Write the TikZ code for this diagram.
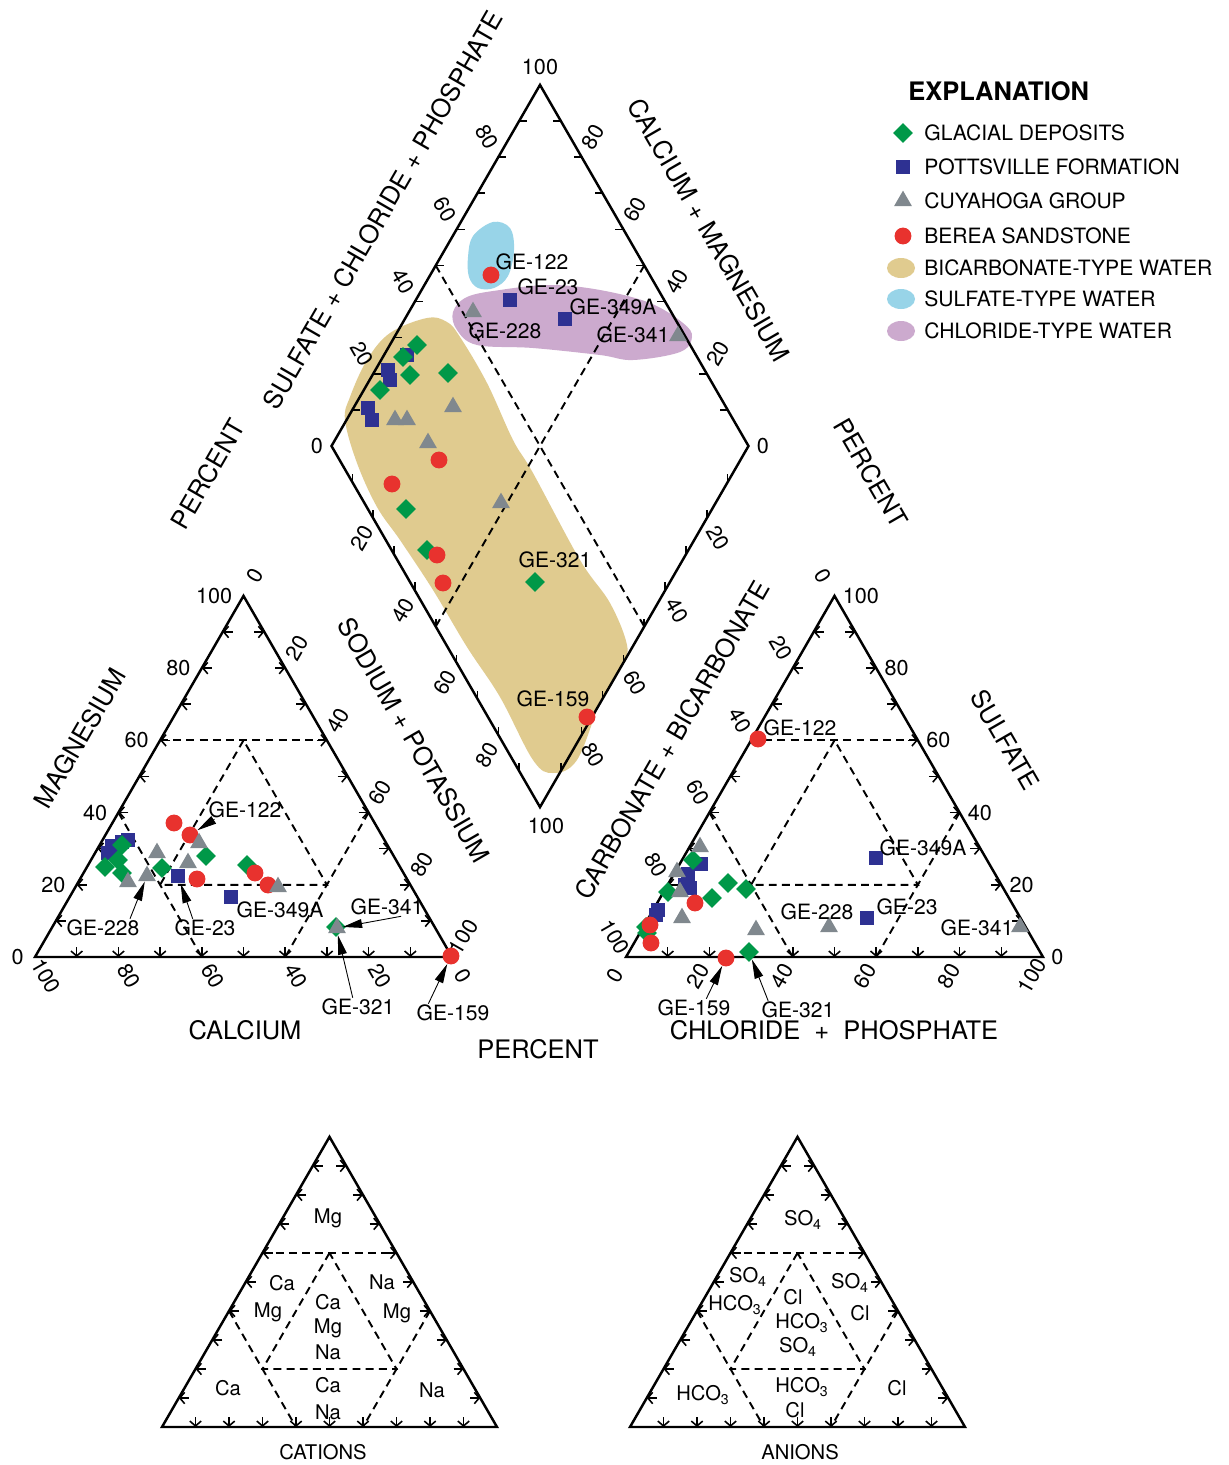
\documentclass[tikz,border=0pt]{standalone}
\usepackage{fontspec}
\setmainfont{TeX Gyre Heros}
\usetikzlibrary{arrows.meta,shapes.geometric}

\definecolor{glacgreen}{RGB}{0,152,72}
\definecolor{pottsblue}{RGB}{46,49,146}
\definecolor{cuyagray}{RGB}{128,136,142}
\definecolor{bereared}{RGB}{232,50,46}
\definecolor{bicarbtan}{RGB}{224,203,143}
\definecolor{sulfblue}{RGB}{152,212,232}
\definecolor{chlorpurple}{RGB}{204,170,206}

\tikzset{
  triframe/.style={line width=1.4pt,line join=miter},
  zoneline/.style={line width=1.1pt,dash pattern=on 4.5pt off 3pt},
  tickmark/.style={line width=0.9pt},
  chev/.style={line width=0.9pt,-{Straight Barb[length=2.8pt,width=6.5pt]}},
  ticklab/.style={font=\fontsize{12.3}{13}\selectfont,inner sep=0pt},
  axislab/.style={font=\fontsize{14.5}{16}\selectfont,inner sep=0pt},
  samplab/.style={font=\fontsize{12}{13}\selectfont,inner sep=0.5pt},
  zonelab/.style={font=\fontsize{11.5}{13}\selectfont,inner sep=0pt},
  legtxt/.style={font=\fontsize{12}{14}\selectfont,anchor=west,inner sep=0pt},
  glacial/.style={diamond,fill=glacgreen,minimum size=11.3pt,inner sep=0pt},
  potts/.style={rectangle,fill=pottsblue,minimum size=8.5pt,inner sep=0pt},
  cuya/.style={regular polygon,regular polygon sides=3,fill=cuyagray,minimum size=11.8pt,inner sep=0pt},
  berea/.style={circle,fill=bereared,minimum size=9.6pt,inner sep=0pt},
  callout/.style={line width=0.5pt,-{Triangle[length=11pt,width=5pt]}}
}

% triangle with ticks and zone lines: #1,#2 lower left corner, #3 side
\newcommand{\pipertri}[3]{%
  \pgfmathsetmacro{\tris}{#3}%
  \pgfmathsetmacro{\trih}{0.8660254*#3}%
  \draw[triframe] (#1,#2) -- ++(\tris,0) -- ++(-0.5*\tris,-\trih) -- cycle;
  \foreach \k in {1,...,9}{
    \draw[chev] ({#1+0.05*\tris*\k+10},{#2-0.1*\trih*\k}) -- ++(-10,0);
    \draw[chev] ({#1+\tris-0.05*\tris*\k-10},{#2-0.1*\trih*\k}) -- ++(10,0);
    \draw[chev] ({#1+0.1*\tris*\k},{#2-10}) -- ++(0,10);
  }
  \draw[zoneline] ({#1+0.3*\tris},{#2-0.6*\trih}) -- ({#1+0.7*\tris},{#2-0.6*\trih});
  \draw[zoneline] ({#1+0.2*\tris},{#2-0.4*\trih}) -- ({#1+0.4*\tris},#2);
  \draw[zoneline] ({#1+0.8*\tris},{#2-0.4*\trih}) -- ({#1+0.6*\tris},#2);
  \draw[zoneline] ({#1+0.5*\tris},{#2-0.6*\trih}) -- ({#1+0.3*\tris},{#2-0.2*\trih})
    -- ({#1+0.7*\tris},{#2-0.2*\trih}) -- cycle;
}

\begin{document}
\begin{tikzpicture}[x=0.02cm,y=-0.02cm]
\fill[white] (0,0) rectangle (1229,1465);
\useasboundingbox (0,0) rectangle (1229,1465);

% water-type fields in the diamond
\fill[bicarbtan] plot[smooth cycle,tension=0.6] coordinates {(345,420) (350,397) (367,360) (390,333) (427,318) (447,322) (460,337) (487,383) (513,440) (533,473) (580,560) (610,603) (627,645) (622,665) (600,703) (577,760) (553,773) (533,760) (500,697) (467,647) (433,590) (400,540) (377,507) (357,463)};
\fill[sulfblue] plot[smooth cycle,tension=0.6] coordinates {(468,257) (473,236) (493,222) (510,228) (514,250) (508,276) (494,288) (478,288) (469,277)};
\fill[chlorpurple] plot[smooth cycle,tension=0.6] coordinates {(453,312) (467,297) (500,290) (550,285) (600,290) (650,303) (683,323) (692,337) (680,352) (633,360) (600,355) (533,348) (477,345) (457,330)};

% diamond
\draw[triframe] (331.5,446) -- (540,84.9) -- (748.5,446) -- (540,807.1) -- cycle;
\foreach \k in {1,...,9}{
  \draw[tickmark] ({331.5+20.85*\k},{446-36.11*\k}) -- ++(8,0);
  \draw[tickmark] ({748.5-20.85*\k},{446-36.11*\k}) -- ++(-8,0);
  \draw[tickmark] ({331.5+20.85*\k},{446+36.11*\k}) -- ++(0,-8);
  \draw[tickmark] ({748.5-20.85*\k},{446+36.11*\k}) -- ++(0,-8);
}
\draw[zoneline] (435.75,265.5) -- (644.25,626.5);
\draw[zoneline] (644.25,265.5) -- (435.75,626.5);
\foreach \v in {20,40,...,80}{
  \node[ticklab,rotate=-60] (dul\v) at ({331.5+2.085*\v-11.5},{446-3.611*\v-20}) {\v};
  \node[ticklab,rotate=60] (dur\v) at ({748.5-2.085*\v+11.5},{446-3.611*\v-20}) {\v};
  \node[ticklab,rotate=60] (dll\v) at ({331.5+2.085*\v-11.5},{446+3.611*\v+20}) {\v};
  \node[ticklab,rotate=-60] (dlr\v) at ({748.5-2.085*\v+11.5},{446+3.611*\v+20}) {\v};
}
\node[ticklab] (dtop) at (540,67) {100};
\node[ticklab] (dbot) at (546,826) {100};
\node[ticklab] (dlft) at (317,446) {0};
\node[ticklab] (drgt) at (763,446) {0};

% cation and anion triangles
\pipertri{35}{957}{417}
\pipertri{626}{957}{417}
\foreach \v in {0,20,...,100}{
  \node[ticklab,anchor=east] (mg\v) at ({35+2.085*\v-11},{957-3.611*\v}) {\v};
  \node[ticklab,rotate=60] (na\v) at ({243.5+2.085*\v+11.5},{595.9+3.611*\v-20}) {\v};
  \node[ticklab,rotate=-60] (ca\v) at ({35+4.17*(100-\v)+11},{957+19}) {\v};
  \node[ticklab,rotate=-60] (hc\v) at ({834.5-2.085*\v-11.5},{595.9+3.611*\v-20}) {\v};
  \node[ticklab,anchor=west] (so\v) at ({1043-2.085*\v+8},{957-3.611*\v}) {\v};
  \node[ticklab,rotate=60] (cl\v) at ({626+4.17*\v-11},{957+19}) {\v};
}

% axis titles
\node[axislab,rotate=60] (tso) at (383,210) {SULFATE + CHLORIDE + PHOSPHATE};
\node[axislab,rotate=60] (tpl) at (208,474) {PERCENT};
\node[axislab,rotate=-60] (tcm) at (709,230) {CALCIUM + MAGNESIUM};
\node[axislab,rotate=-60] (tpr) at (871,473) {PERCENT};
\node[axislab,rotate=60] (tmg) at (80,738) {MAGNESIUM};
\node[axislab,rotate=-60] (tnk) at (414,740) {SODIUM + POTASSIUM};
\node[axislab] (tca) at (245,1030) {CALCIUM};
\node[axislab] (tpb) at (538,1049) {PERCENT};
\node[axislab,rotate=60] (tcb) at (672,740) {CARBONATE + BICARBONATE};
\node[axislab,rotate=-60] (tsu) at (1005,740) {SULFATE};
\node[axislab] (tcp) at (834,1030) {CHLORIDE\ \ +\ \ PHOSPHATE};

% samples, cation triangle
\foreach \x/\y [count=\i] in {128/840,122/842,112/846,108/853}
  \node[potts] (lp\i) at (\x,\y) {};
\node[potts] (lp23) at (178,876) {};
\node[potts] (lp349) at (231,897) {};
\foreach \x/\y [count=\i] in {122/845,118/860,105/867,122/873,162/868,206/856,247/865}
  \node[glacial] (lg\i) at (\x,\y) {};
\node[glacial] (lg321) at (336,927) {};
\foreach \x/\y [count=\i] in {174/823,197/879,255/873,268/885}
  \node[berea] (lb\i) at (\x,\y) {};
\node[berea] (lb122) at (190,835) {};
\node[berea] (lb159) at (451,956) {};
\foreach \x/\y [count=\i] in {128/882,157/853,188/863,199/843,278/887}
  \node[cuya] (lc\i) at (\x,\y) {};
\node[cuya] (lc228) at (147,876) {};
\node[cuya] (lc341) at (337,928) {};

\node[samplab] (l122) at (245,810) {GE-122};
\node[samplab] (l228) at (103,928) {GE-228};
\node[samplab] (l23) at (205,928) {GE-23};
\node[samplab] (l349) at (280,910) {GE-349A};
\node[samplab] (l341) at (387,907) {GE-341};
\node[samplab] (l321) at (358,1007) {GE-321};
\node[samplab] (l159) at (453,1013) {GE-159};
\draw[callout] ([xshift=4pt]l122.south west) -- (lb122);
\draw[callout] ([xshift=-6pt]l228.north east) -- (lc228);
\draw[callout] ([xshift=-7pt]l23.north) -- (lp23);
\draw[callout] ([xshift=8pt]l341.south) -- (lc341);
\draw[callout] ([xshift=-3pt]l321.north) -- (lg321);
\draw[callout] ([xshift=-14pt]l159.north) -- (lb159);

% samples, anion triangle
\foreach \x/\y [count=\i] in {701/864,688/874,685/885,690/888,658/910,656/915,876/858,867/918}
  \node[potts] (rp\i) at (\x,\y) {};
\foreach \x/\y [count=\i] in {693/860,668/892,712/898,728/883,746/889,646/927,647/933}
  \node[glacial] (rg\i) at (\x,\y) {};
\node[glacial] (rg321) at (749,952) {};
\foreach \x/\y [count=\i] in {758/739,695/903,650/925,651/943}
  \node[berea] (rb\i) at (\x,\y) {};
\node[berea] (rb159) at (726,958) {};
\foreach \x/\y [count=\i] in {700/847,677/872,680/892,682/918,756/930,829/927,1020/927}
  \node[cuya] (rc\i) at (\x,\y) {};

\node[samplab] (r122) at (800,728) {GE-122};
\node[samplab] (r349) at (923,848) {GE-349A};
\node[samplab] (r228) at (817,912) {GE-228};
\node[samplab] (r23) at (907,907) {GE-23};
\node[samplab] (r341) at (977,928) {GE-341};
\node[samplab] (r159) at (694,1008) {GE-159};
\node[samplab] (r321) at (798,1010) {GE-321};
\draw[callout] ([xshift=7pt]r159.north) -- (rb159);
\draw[callout] ([xshift=-17pt]r321.north) -- (rg321);

% samples, diamond
\foreach \x/\y [count=\i] in {407/355,388/370,390/380,368/408,372/420,510/300,565/319}
  \node[potts] (dp\i) at (\x,\y) {};
\foreach \x/\y [count=\i] in {417/345,403/357,410/375,448/373,380/390,406/509,427/550,535/582}
  \node[glacial] (dg\i) at (\x,\y) {};
\foreach \x/\y [count=\i] in {491/275,439/460,392/484,437/555,443/583,587/717}
  \node[berea] (db\i) at (\x,\y) {};
\foreach \x/\y [count=\i] in {395/420,407/420,453/407,428/443,501/503,473/312,678/336}
  \node[cuya] (dc\i) at (\x,\y) {};

\node[samplab] (d122) at (532,262) {GE-122};
\node[samplab] (d23) at (548,287) {GE-23};
\node[samplab] (d228) at (505,331) {GE-228};
\node[samplab] (d349) at (613,307) {GE-349A};
\node[samplab] (d341) at (633,335) {GE-341};
\node[samplab] (d321) at (555,560) {GE-321};
\node[samplab] (d159) at (553,699) {GE-159};

% explanation
\node[font=\bfseries\fontsize{14.5}{16}\selectfont,anchor=west,inner sep=0pt] (kexp) at (908,91) {EXPLANATION};
\node[glacial] (kg) at (903,133) {};
\node[legtxt] (kgt) at (924,133) {GLACIAL DEPOSITS};
\node[potts] (kp) at (903,167) {};
\node[legtxt] (kpt) at (924,167) {POTTSVILLE FORMATION};
\node[cuya] (kc) at (903,201) {};
\node[legtxt] (kct) at (924,201) {CUYAHOGA GROUP};
\node[berea] (kb) at (903,236) {};
\node[legtxt] (kbt) at (924,236) {BEREA SANDSTONE};
\fill[bicarbtan] (901,268) ellipse [x radius=14,y radius=10];
\node[legtxt] (kht) at (924,268) {BICARBONATE-TYPE WATER};
\fill[sulfblue] (901,299) ellipse [x radius=14,y radius=10];
\node[legtxt] (kst) at (924,299) {SULFATE-TYPE WATER};
\fill[chlorpurple] (901,331) ellipse [x radius=14,y radius=10];
\node[legtxt] (klt) at (924,331) {CHLORIDE-TYPE WATER};

% key triangles
\pipertri{162}{1427}{335}
\pipertri{630}{1427}{335}
\node[zonelab] (zmg) at (328,1218) {Mg};
\node[zonelab] (zcm1) at (282,1283) {Ca};
\node[zonelab] (zcm2) at (268,1312) {Mg};
\node[zonelab] (znm1) at (382,1282) {Na};
\node[zonelab] (znm2) at (397,1313) {Mg};
\node[zonelab] (zmix1) at (328,1302) {Ca};
\node[zonelab] (zmix2) at (328,1328) {Mg};
\node[zonelab] (zmix3) at (328,1352) {Na};
\node[zonelab] (zca) at (228,1388) {Ca};
\node[zonelab] (zcn1) at (328,1385) {Ca};
\node[zonelab] (zcn2) at (328,1412) {Na};
\node[zonelab] (zna) at (432,1390) {Na};
\node[zonelab] (cat) at (323,1452) {CATIONS};

\node[zonelab] (zso) at (803,1220) {SO\textsubscript{4}};
\node[zonelab] (zsh1) at (748,1277) {SO\textsubscript{4}};
\node[zonelab] (zsh2) at (735,1305) {HCO\textsubscript{3}};
\node[zonelab] (zmx1) at (793,1297) {Cl};
\node[zonelab] (zmx2) at (802,1323) {HCO\textsubscript{3}};
\node[zonelab] (zmx3) at (798,1347) {SO\textsubscript{4}};
\node[zonelab] (zsc1) at (850,1283) {SO\textsubscript{4}};
\node[zonelab] (zsc2) at (860,1313) {Cl};
\node[zonelab] (zhc) at (703,1395) {HCO\textsubscript{3}};
\node[zonelab] (zhl1) at (802,1387) {HCO\textsubscript{3}};
\node[zonelab] (zhl2) at (795,1410) {Cl};
\node[zonelab] (zcl) at (897,1388) {Cl};
\node[zonelab] (ani) at (800,1452) {ANIONS};
\end{tikzpicture}
\end{document}
